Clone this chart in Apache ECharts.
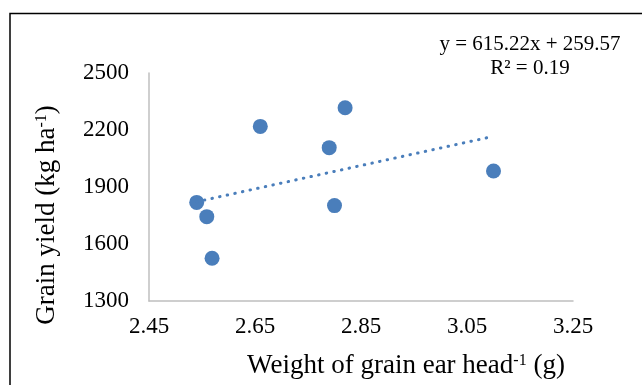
<!DOCTYPE html>
<html>
<head>
<meta charset="utf-8">
<title>Grain yield vs weight of grain ear head</title>
<script src="https://cdn.jsdelivr.net/npm/echarts@6/dist/echarts.min.js"></script>
<style>
  html, body { margin: 0; padding: 0; background: #fff; }
  #chart { width: 642px; height: 385px; }
</style>
</head>
<body>
<div id="chart"></div>
<script>
  // weight of grain ear head (g) and grain yield (kg/ha)
  var earWeight = [2.54, 2.559, 2.569, 2.66, 2.79, 2.80, 2.82, 3.10];
  var grainYield = [1819, 1744, 1525, 2219, 2107, 1802, 2317, 1984];
  // linear trend as printed on the chart
  var slope = 615.22, intercept = 259.57, rSquared = 0.19;
  var trendX = [2.54, 3.10];
  var yTicks = [1300, 1600, 1900, 2200, 2500];
  var xTicks = [2.45, 2.65, 2.85, 3.05, 3.25];

  var points = earWeight.map(function (x, i) { return [x, grainYield[i]]; });
  var trend = trendX.map(function (x) { return [x, slope * x + intercept]; });

  var serif = '"Liberation Serif", "Times New Roman", serif';
  var blue = '#4a7ebb';

  var chart = echarts.init(document.getElementById('chart'), null, {renderer: 'canvas'});
  chart.setOption({
    animation: false,
    grid: { left: 149, right: 69, top: 73, bottom: 84 },
    xAxis: {
      type: 'value',
      min: xTicks[0],
      max: xTicks[xTicks.length - 1],
      interval: 0.2,
      axisLine: { show: true, lineStyle: { color: '#bfbfbf', width: 1.5 } },
      axisTick: { show: false },
      splitLine: { show: false },
      axisLabel: {
        margin: 14,
        fontFamily: serif, fontSize: 23, color: '#000',
        formatter: function (v) { return v.toFixed(2); }
      }
    },
    yAxis: {
      type: 'value',
      min: yTicks[0],
      max: yTicks[yTicks.length - 1],
      interval: 300,
      axisLine: { show: true, lineStyle: { color: '#bfbfbf', width: 1.5 } },
      axisTick: { show: false },
      splitLine: { show: false },
      axisLabel: {
        margin: 20, fontFamily: serif, fontSize: 23, color: '#000',
        formatter: function (v) { return String(v); }
      }
    },
    series: [
      {
        type: 'line',
        data: trend,
        symbol: 'none',
        silent: true,
        lineStyle: { color: blue, width: 3, type: [0.5, 7.3], cap: 'round' }
      },
      {
        type: 'scatter',
        data: points,
        symbolSize: 15,
        itemStyle: { color: blue, opacity: 1 }
      }
    ],
    graphic: [
      {
        type: 'rect',
        shape: { x: 10, y: 13.5, width: 700, height: 500 },
        style: { fill: 'none', stroke: '#000', lineWidth: 1.5 },
        silent: true
      },
      {
        type: 'text',
        x: 530, y: 44,
        style: {
          text: 'y = ' + slope + 'x + ' + intercept,
          font: '21px ' + serif, fill: '#000',
          textAlign: 'center', textVerticalAlign: 'middle'
        }
      },
      {
        type: 'text',
        x: 530, y: 68,
        style: {
          text: 'R² = ' + rSquared,
          font: '21px ' + serif, fill: '#000',
          textAlign: 'center', textVerticalAlign: 'middle'
        }
      },
      {
        type: 'text',
        x: 406, y: 366,
        style: {
          text: 'Weight of grain ear head{sup|-1} (g)',
          font: '27px ' + serif, fill: '#000',
          textAlign: 'center', textVerticalAlign: 'middle',
          rich: { sup: { fontFamily: serif, fontSize: 16, verticalAlign: 'top', fill: '#000' } }
        }
      },
      {
        type: 'text',
        x: 47, y: 215,
        rotation: Math.PI / 2,
        style: {
          text: 'Grain yield (kg ha{sup|-1})',
          font: '27px ' + serif, fill: '#000',
          textAlign: 'center', textVerticalAlign: 'middle',
          rich: { sup: { fontFamily: serif, fontSize: 16, verticalAlign: 'top', fill: '#000' } }
        }
      }
    ]
  });
</script>
</body>
</html>
